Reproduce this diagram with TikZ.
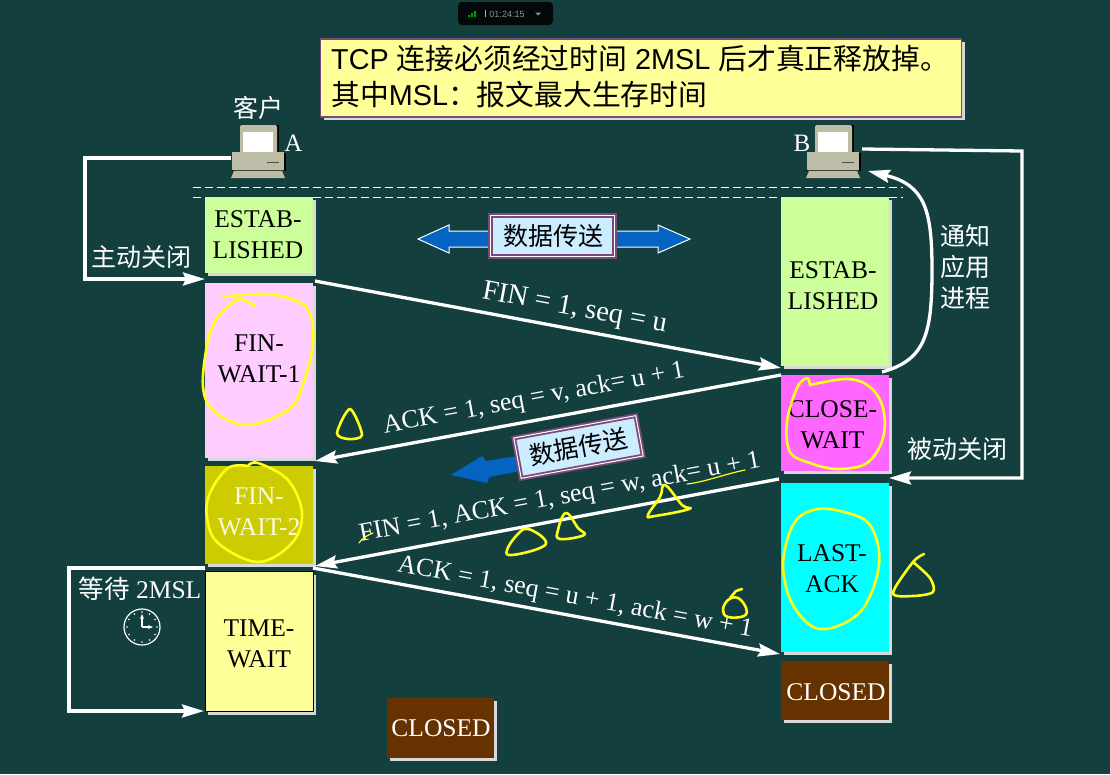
\documentclass[tikz,border=0pt]{standalone}
\usepackage{fontspec}
\setmainfont{Liberation Serif}
\newfontfamily\cjk{Noto Sans CJK SC}
\newfontfamily\hei{Liberation Sans}
\usetikzlibrary{arrows.meta,shadows}
\definecolor{bg}{HTML}{133F3F}
\definecolor{estab}{HTML}{CCFF99}
\definecolor{pinkbox}{HTML}{FFCCFF}
\definecolor{olive}{HTML}{CCCC00}
\definecolor{paleyellow}{HTML}{FFFF99}
\definecolor{magentabox}{HTML}{FF66FF}
\definecolor{cyanbox}{HTML}{00FFFF}
\definecolor{brownbox}{HTML}{663300}
\definecolor{skybox}{HTML}{CCECFF}
\definecolor{arrowblue}{HTML}{0563C1}
\definecolor{edgepurple}{HTML}{7A4A7A}
\definecolor{shade}{HTML}{D8D8D8}
\definecolor{pcbody}{HTML}{BDBDA6}
\definecolor{scribble}{HTML}{FFFF1A}
\tikzset{
  x=1pt,y=-1pt,
  statebox/.style={draw=none,inner sep=0pt,
    copy shadow={shadow xshift=3pt,shadow yshift=-3pt,fill=shade,draw=none}},
  statetext/.style={inner sep=0pt,align=center,text=black,font=\fontsize{25.5}{31}\selectfont},
  wire/.style={draw=white,line width=3.3pt},
  wirehead/.style={wire,-{Stealth[length=22pt,width=13pt,inset=3pt]}},
  msg/.style={text=white,font=\fontsize{26}{28}\selectfont,inner sep=0pt},
  lbl/.style={text=white,font=\cjk\fontsize{25}{31}\selectfont,inner sep=0pt},
  scrib/.style={draw=scribble,line width=2.6pt,line cap=round,line join=round},
  xfer/.style={fill=skybox,draw=edgepurple,line width=1.8pt,inner sep=0pt,
    minimum width=124pt,minimum height=41pt,font=\cjk\fontsize{25}{30}\selectfont,text=black},
  bluearrow/.style={fill=arrowblue,draw=white,line width=1pt,line join=miter},
  pcnode/.style={inner sep=0pt,minimum width=54pt,minimum height=53pt},
  computer/.pic={
    \fill[black] (-17,-26) rectangle (21,3);
    \fill[pcbody,rounded corners=2pt] (-18,-26) rectangle (19,3);
    \fill[white] (-15,-19) rectangle (15,2);
    \fill[black] (-26,2) rectangle (28,20);
    \fill[pcbody] (-26,1) rectangle (26,19);
    \draw[black!70,line width=.8pt] (9,11) -- (21,11);
    \fill[black!75] (-25,19) rectangle (26,20);
    \fill[pcbody] (-24,20) -- (24,20) -- (27,27) -- (-27,27) -- cycle;
  }
}
\begin{document}
\begin{tikzpicture}
\useasboundingbox[fill=bg] (0,0) rectangle (1110,774);

% toolbar
\fill[black!85!bg,rounded corners=4pt] (458,2) rectangle (553,25);
\fill[green!60!black] (468,15) rectangle (470,17) (471,13) rectangle (473,17) (474,11) rectangle (476,17);
\draw[gray!60,line width=.5pt] (485,10) -- (485,17);
\node[inner sep=0pt,text=gray!85,font=\hei\fontsize{9}{9}\selectfont] (clocktext) at (507,14) {01:24:15};
\fill[gray!85] (535,12.5) -- (541,12.5) -- (538,15.5) -- cycle;

% title
\node[draw=edgepurple,line width=1.2pt,fill=paleyellow,inner sep=0pt,minimum width=641pt,minimum height=78pt,
  copy shadow={shadow xshift=3pt,shadow yshift=-3pt,fill=shade,draw=none}] (title) at (641,78) {};
\node[anchor=west,inner sep=0pt,text=black,font=\hei\fontsize{28.8}{35}\selectfont] (t1) at (331,59)
  {TCP {\cjk 连接必须经过时间} 2MSL {\cjk 后才真正释放掉。}};
\node[anchor=west,inner sep=0pt,text=black,font=\hei\fontsize{28.8}{35}\selectfont] (t2) at (331,94)
  {{\cjk 其中}MSL{\cjk ：报文最大生存时间}};

% computers
\node[pcnode] (pcA) at (258,151) {};
\pic at (pcA) {computer};
\node[pcnode] (pcB) at (833,151) {};
\pic at (pcB) {computer};
\node[lbl,font=\cjk\fontsize{25}{28}\selectfont] (client) at (258,108) {客户};
\node[msg,font=\fontsize{25}{28}\selectfont] (labA) at (293.5,143) {A};
\node[msg,font=\fontsize{25}{28}\selectfont] (labB) at (802,143) {B};

% dashed lines
\coordinate (d1l) at (193,187); \coordinate (d1r) at (903,187);
\coordinate (d2l) at (193,197); \coordinate (d2r) at (903,197);
\draw[white,line width=1pt,dash pattern=on 8pt off 4pt] (d1l) -- (d1r);
\draw[white,line width=1pt,dash pattern=on 8pt off 4pt] (d2l) -- (d2r);

% state boxes A
\node[statebox,fill=estab,minimum width=108pt,minimum height=76pt] (estabA) at (259,235) {};
\node[statetext] (estabAt) at (258,235) {ESTAB-\\LISHED};
\node[statebox,fill=pinkbox,minimum width=108pt,minimum height=175pt] (w1) at (259,370.5) {};
\node[statetext] (w1t) at (259,358.5) {FIN-\\WAIT-1};
\node[statebox,fill=olive,minimum width=108pt,minimum height=98pt] (w2) at (259,515) {};
\node[statetext,text=white!90!olive] (w2t) at (259,511.5) {FIN-\\WAIT-2};
\node[statebox,fill=paleyellow,draw=black,line width=1pt,minimum width=108pt,minimum height=140pt] (tw) at (259,641.5) {};
\node[statetext] (twt) at (259,644) {TIME-\\WAIT};
\node[statebox,fill=brownbox,minimum width=107pt,minimum height=60pt] (closedA) at (440.5,728) {};
\node[statetext,text=white] (closedAt) at (441,728) {CLOSED};

% state boxes B
\node[statebox,fill=estab,minimum width=108pt,minimum height=169pt] (estabB) at (835,281.5) {};
\node[statetext] (estabBt) at (833,286) {ESTAB-\\LISHED};
\node[statebox,fill=magentabox,minimum width=108pt,minimum height=96pt] (cw) at (835,423) {};
\node[statetext] (cwt) at (832.5,424.5) {CLOSE-\\WAIT};
\node[statebox,fill=cyanbox,minimum width=108pt,minimum height=169pt] (la) at (835,567.5) {};
\node[statetext] (lat) at (832,568.5) {LAST-\\ACK};
\node[statebox,fill=brownbox,minimum width=108pt,minimum height=59pt] (closedB) at (835,690.5) {};
\node[statetext,text=white] (closedBt) at (836,692.5) {CLOSED};

% connector end points
\coordinate (aout) at (231,158);
\coordinate (acorner1) at (85,158);
\coordinate (acorner2) at (85,279);
\coordinate (ain) at (205,279);
\coordinate (bout) at (862,149);
\coordinate (bcorner1) at (1022,151);
\coordinate (bcorner2) at (1022,478);
\coordinate (bin) at (889,478);
\coordinate (notifyfrom) at (882,372);
\coordinate (notifymid) at (932,270);
\coordinate (notifyto) at (868,171);
\coordinate (waitfrom) at (205,568);
\coordinate (waitc1) at (69,568);
\coordinate (waitc2) at (69,711);
\coordinate (waitto) at (204,711);
\coordinate (m1a) at (315,281); \coordinate (m1b) at (781,368);
\coordinate (m2a) at (781,375); \coordinate (m2b) at (315,461);
\coordinate (m3a) at (779,479); \coordinate (m3b) at (315,566);
\coordinate (m4a) at (313,568); \coordinate (m4b) at (780,654);

\draw[wirehead] (aout) -- (acorner1) -- (acorner2) -- (ain);
\draw[wirehead] (bout) -- (bcorner1) -- (bcorner2) -- (bin);
\draw[wirehead] (notifyfrom) .. controls (925,360) and (932,335) .. (notifymid) .. controls (932,210) and (925,185) .. (notifyto);
\draw[wirehead] (waitfrom) -- (waitc1) -- (waitc2) -- (waitto);
\draw[wirehead] (m1a) -- (m1b);
\draw[wirehead] (m2a) -- (m2b);
\draw[wirehead] (m3a) -- (m3b);
\draw[wirehead] (m4a) -- (m4b);

% messages
\node[msg,font=\fontsize{28.5}{30}\selectfont,rotate=-10.5] (l1) at (574.5,309) {FIN = 1, seq = u};
\node[msg,rotate=10.5] (l2) at (534,399) {ACK = 1, seq = v, ack= u + 1};
\node[msg,rotate=10.5] (l3) at (560,498) {FIN = 1, ACK = 1, seq = w, ack= u + 1};
\node[msg,rotate=-10.5] (l4) at (575,598) {ACK = 1, seq = u + 1, ack = w + 1};

% side labels
\node[lbl] (active) at (141,257) {主动关闭};
\node[lbl] (passive) at (957,449) {被动关闭};
\node[lbl,align=center] (notify) at (965,267) {通知\\应用\\进程};
\node[msg,font=\fontsize{25.5}{28}\selectfont] (wait2msl) at (140,589) {{\cjk 等待} 2MSL};

% clock
\node[draw=white,line width=1.2pt,circle,minimum size=36pt,inner sep=0pt] (clk) at (142,627) {};
\foreach \a in {0,30,...,330} \fill[white] (clk.center) ++(\a:15) circle (0.8);
\draw[white,line width=1.5pt,-{Stealth[length=5pt,width=4pt]}] (clk.center) -- ++(0,-13);
\draw[white,line width=1.5pt,-{Stealth[length=5pt,width=4pt]}] (clk.center) -- ++(11,0);

% data transfer (top)
\fill[bluearrow] (418,239) -- (449,225) -- (449,231) -- (658,231) -- (658,225) -- (690,239) -- (658,253) -- (658,247) -- (449,247) -- (449,253) -- cycle;
\node[xfer,double=white,double distance=1pt] (dt1) at (552.5,236) {};
\node[inner sep=0pt,text=black,font=\cjk\fontsize{25}{30}\selectfont] (dt1t) at (553,236.5) {数据传送};

% data transfer (tilted)
\fill[arrowblue] (451,475) -- (482,456) -- (486,461) -- (518,456) -- (520,471) -- (489,477) -- (487,483) -- cycle;
\node[xfer,double=white,double distance=1pt,rotate=10.4] (dt2) at (578.5,447) {数据传送};

% handwriting
\draw[scrib] plot[smooth,tension=0.6] coordinates {(255,306) (246,301) (237,300) (218,317) (208,340) (203,387) (215,412) (248,425) (288,410) (302,387) (313,343) (308,310) (285,297) (255,294) (223,297)};
\draw[scrib] plot[smooth,tension=0.6] coordinates {(248,466) (228,468) (210,493) (207,517) (218,543) (258,562) (292,543) (302,513) (288,480) (258,463) (248,466)};
\draw[scrib] plot[smooth,tension=0.6] coordinates {(810,385) (807,378) (797,388) (787,422) (790,452) (810,463) (837,469) (867,463) (883,438) (883,408) (870,387) (847,379) (810,385)};
\draw[scrib] plot[smooth cycle,tension=0.6] coordinates {(813,510) (793,525) (783,565) (793,605) (820,629) (860,612) (879,565) (870,525) (840,511)};
\draw[scrib] plot[smooth cycle,tension=0.5] coordinates {(350,409) (337,433) (348,439) (362,435)};
\draw[scrib] plot[smooth cycle,tension=0.7] coordinates {(528,529) (545,540) (540,548) (512,555) (507,550) (517,535)};
\draw[scrib] plot[smooth cycle,tension=0.7] coordinates {(566,513) (578,528) (584,535) (560,539) (558,530)};
\draw[scrib] plot[smooth cycle,tension=0.7] coordinates {(665,485) (682,505) (689,509) (655,516) (648,515) (660,497)};
\draw[scrib] plot[smooth cycle,tension=0.7] coordinates {(728,600) (738,598) (746,608) (744,616) (728,617) (723,610)};
\draw[scrib] (742,589) -- (736,591) -- (730,598);
\draw[scrib] plot[smooth,tension=0.5] coordinates {(924,554) (913,562) (893,593) (913,596) (933,592) (930,578) (913,562)};
\draw[scrib,line width=1.2pt] (687,484) .. controls (705,482) and (725,474) .. (745,470);
\draw[scrib,line width=1.2pt] (359,543) .. controls (362,538) and (368,535) .. (373,533);
\end{tikzpicture}
\end{document}
